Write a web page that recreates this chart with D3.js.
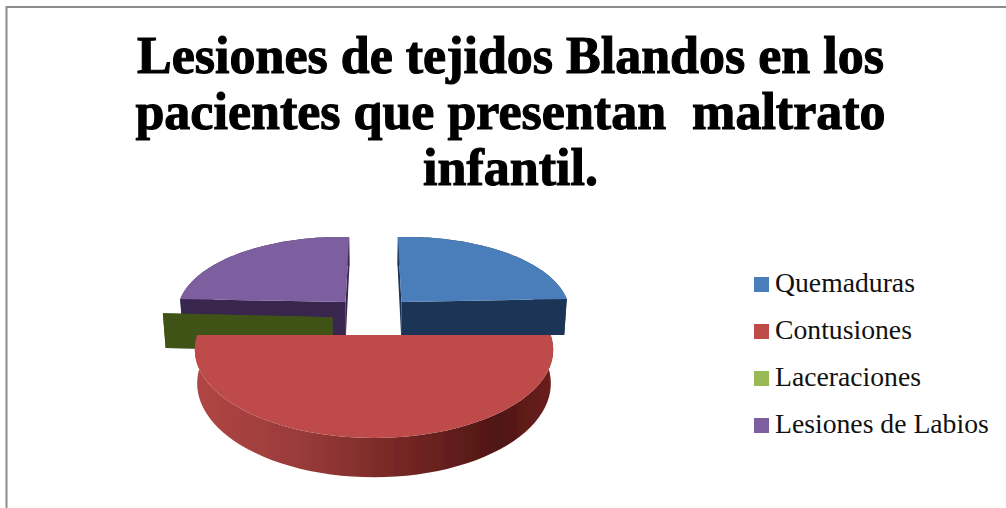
<!DOCTYPE html>
<html>
<head>
<meta charset="utf-8">
<script src="https://cdn.jsdelivr.net/npm/d3@7"></script>
<style>
html,body{margin:0;padding:0;background:#fff;overflow:hidden;}
svg{display:block;}
</style>
</head>
<body>
<svg id="chart" width="1006" height="508"></svg>
<script>
var titleLines = ["Lesiones de tejidos Blandos en los", "pacientes que presentan  maltrato", "infantil."];
var categories = ["Quemaduras", "Contusiones", "Laceraciones", "Lesiones de Labios"];
var values = [25, 50, 0, 25];

var topColors = ["#4A7EBB", "#BE4B48", "#98B954", "#7D5FA0"];
var wallColors = ["#1C3557", "#7A2A28", "#3F5216", "#38284F"];
var explode = [0.226, 0.252, 0.26, 0.226];
var lift = [3, 0, 4, 3];
var liftZ = [-1, 0, -0.25, -1];
var nudgeX = [0, -1, 1.5, -3];
var nudgeY = [0, 0, 3, 0];
var depthScale = [1, 0.93, 1, 1];

var svg = d3.select("#chart");

// grey frame, open at the bottom
svg.append("path").attr("d", "M6.5 508V7H1006").attr("fill", "none").attr("stroke", "#8c8c8c").attr("stroke-width", 2);

var titleY = d3.scalePoint().domain(d3.range(titleLines.length)).range([73, 185]);
svg.selectAll("text.title").data(titleLines).enter().append("text")
    .attr("class", "title")
    .attr("x", 510.5)
    .attr("y", function(d, i){ return titleY(i); })
    .attr("text-anchor", "middle")
    .attr("xml:space", "preserve")
    .style("white-space", "pre")
    .style("font-family", "'Liberation Serif'")
    .style("font-weight", "bold")
    .style("font-size", "52px")
    .style("stroke", "#000")
    .style("stroke-width", 1.1)
    .text(function(d){ return d; });

// perspective of the pie: t is depth (0 far rim, grows towards viewer), z is height below top face
var R = 143, CX = 375, T0 = 1.16, PERSP = -0.135, PY = 24.2, QY = 237, DEPTH = 28.5;
function project(x, y, z, ux, i){
    var t = y + T0, w = 1 + PERSP*t;
    var sx = CX + R*x/w;
    if(z) sx = CX + (sx - CX)*0.987;
    var sy = (PY*t + QY + DEPTH*z*depthScale[i])/w;
    sy -= lift[i]*ux*(1 + liftZ[i]*z);
    return [sx + nudgeX[i], sy + nudgeY[i]];
}

var pie = d3.pie().sort(null).value(function(d){ return d; });
var arcs = pie(values);
var line = d3.line();

var defs = svg.append("defs");
defs.append("filter").attr("id", "soft").append("feGaussianBlur").attr("stdDeviation", 0.7);
var grad = defs.append("linearGradient").attr("id", "redWall")
    .attr("gradientUnits", "userSpaceOnUse").attr("x1", 195).attr("x2", 553).attr("y1", 0).attr("y2", 0);
[[0, "#B04644"], [0.3, "#983B39"], [0.6, "#722523"], [0.85, "#4F1614"], [1, "#6E201E"]].forEach(function(s){
    grad.append("stop").attr("offset", s[0]).attr("stop-color", s[1]);
});

var pieG = svg.append("g").attr("filter", "url(#soft)");

function drawSlice(i){
    var a = arcs[i], mid = (a.startAngle + a.endAngle)/2;
    var ox = explode[i]*Math.sin(mid), oy = -explode[i]*Math.cos(mid);
    function pt(ang, r, z){
        return project(ox + r*Math.sin(ang), oy - r*Math.cos(ang), z, r*Math.abs(Math.sin(ang)), i);
    }
    var angles = d3.range(0, 61).map(function(n){ return a.startAngle + (a.endAngle - a.startAngle)*n/60; });
    var rimTop = angles.map(function(g){ return pt(g, 1, 0); });
    var rimBot = angles.map(function(g){ return pt(g, 1, 1); });
    var wallFill = i == 1 ? "url(#redWall)" : wallColors[i];

    [a.startAngle, a.endAngle].forEach(function(g){
        pieG.append("path")
            .attr("d", line([pt(g, 0, 0), pt(g, 1, 0), pt(g, 1, 1), pt(g, 0, 1)]) + "Z")
            .attr("fill", wallColors[i]);
    });
    if(a.endAngle > a.startAngle){
        pieG.append("path").attr("d", line(rimTop.concat(rimBot.slice().reverse())) + "Z").attr("fill", wallFill);
        pieG.append("path").attr("d", line([pt(0, 0, 0)].concat(rimTop)) + "Z").attr("fill", topColors[i]);
    }
}
// far slices first, red one is nearest
[3, 0, 2, 1].forEach(drawSlice);

// legend
var legendY = d3.scalePoint().domain(categories).range([292, 433]);
var color = d3.scaleOrdinal().domain(categories).range(topColors);
var legend = svg.selectAll("g.legend").data(categories).enter().append("g").attr("class", "legend")
    .attr("transform", function(d){ return "translate(0," + legendY(d) + ")"; });
legend.append("rect").attr("x", 754).attr("y", -15).attr("width", 15).attr("height", 15)
    .attr("fill", function(d){ return color(d); });
legend.append("text").attr("x", 775).attr("y", 0)
    .style("font-family", "'Liberation Serif'")
    .style("font-size", "27.7px")
    .attr("fill", "#111")
    .text(function(d){ return d; });
</script>
</body>
</html>
